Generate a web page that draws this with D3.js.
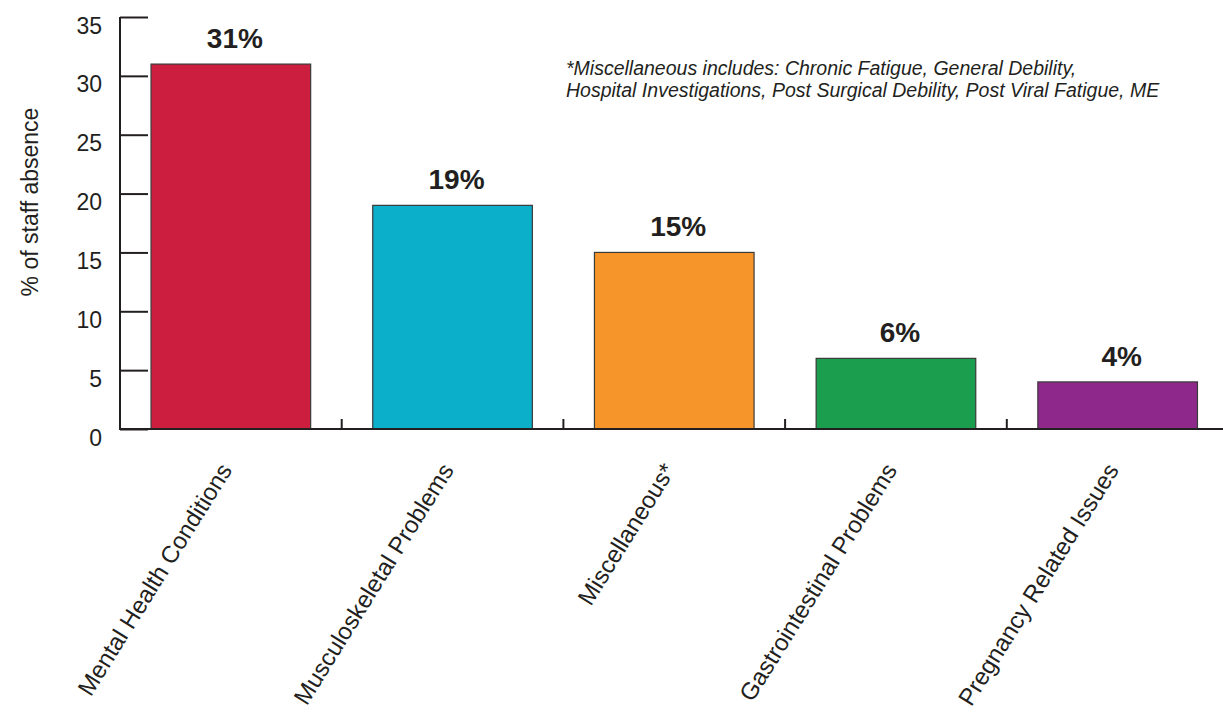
<!DOCTYPE html>
<style>
    body {
        margin: 0;
        font-family: 'Liberation Sans', Arial, sans-serif;
        background: #fff;
    }
</style>
<svg width="1223" height="712"></svg>
<script src="https://d3js.org/d3.v7.min.js"></script>
<script>
    // data
    var categories = ["Mental Health Conditions", "Musculoskeletal Problems", "Miscellaneous*",
        "Gastrointestinal Problems", "Pregnancy Related Issues"];
    var values = [31, 19, 15, 6, 4];
    var colors = ["#CC1F40", "#0BAFC9", "#F6962A", "#1B9E4D", "#8E298B"];
    var yTicks = [0, 5, 10, 15, 20, 25, 30, 35];
    var footnote = ["*Miscellaneous includes: Chronic Fatigue, General Debility,",
        "Hospital Investigations, Post Surgical Debility, Post Viral Fatigue, ME"];

    var svg = d3.select("svg");
    var ink = "#231f20";

    var x = d3.scaleBand()
        .domain(categories)
        .range([120, 1228.5])
        .paddingInner(0.28)
        .paddingOuter(0.14);

    var y = d3.scaleLinear()
        .domain([0, 35])
        .range([429, 17]);

    // bars
    svg.append("g")
        .selectAll("rect")
        .data(values)
        .enter().append("rect")
        .attr("x", function (d, i) { return x(categories[i]); })
        .attr("y", function (d) { return y(d); })
        .attr("width", x.bandwidth())
        .attr("height", function (d) { return y(0) - y(d); })
        .attr("fill", function (d, i) { return colors[i]; })
        .attr("stroke", "#3a3a3a")
        .attr("stroke-width", 1.2);

    // value labels (sit a little right of the bar centre in the original)
    svg.append("g")
        .selectAll("text")
        .data(values)
        .enter().append("text")
        .attr("x", function (d, i) { return x(categories[i]) + x.bandwidth() / 2 + 4; })
        .attr("y", function (d) { return y(d) - 16; })
        .attr("text-anchor", "middle")
        .attr("font-size", 28)
        .attr("font-weight", "bold")
        .attr("fill", ink)
        .text(function (d) { return d + "%"; });

    // y axis, ticks pointing inward
    var yAxis = svg.append("g")
        .attr("transform", "translate(120,0)")
        .call(d3.axisLeft(y).tickValues(yTicks).tickSizeInner(-28).tickSizeOuter(0).tickPadding(18));
    yAxis.selectAll("path, line").attr("stroke", ink).attr("stroke-width", 2);
    yAxis.selectAll("text")
        .attr("font-family", "'Liberation Sans', Arial, sans-serif")
        .attr("font-size", 23)
        .attr("fill", ink)
        .attr("dy", 16);
    yAxis.select(".domain").attr("d", "M0," + y(35) + "V" + y(0));

    // x axis line and separators between the bars
    svg.append("line")
        .attr("x1", 119).attr("x2", 1223)
        .attr("y1", y(0)).attr("y2", y(0))
        .attr("stroke", ink).attr("stroke-width", 2);

    svg.append("g")
        .selectAll("line")
        .data(categories.slice(0, -1))
        .enter().append("line")
        .attr("x1", function (d) { return x(d) + x.bandwidth() + (x.step() - x.bandwidth()) / 2; })
        .attr("x2", function (d) { return x(d) + x.bandwidth() + (x.step() - x.bandwidth()) / 2; })
        .attr("y1", y(0))
        .attr("y2", y(0) - 10)
        .attr("stroke", ink)
        .attr("stroke-width", 2);

    // category labels, rotated
    svg.append("g")
        .selectAll("text")
        .data(categories)
        .enter().append("text")
        .attr("transform", function (d) {
            return "translate(" + (x(d) + x.bandwidth() / 2 + 2) + ",470) rotate(-58)";
        })
        .attr("text-anchor", "end")
        .attr("font-size", 24)
        .attr("fill", ink)
        .text(function (d) { return d; });

    // y axis title
    svg.append("text")
        .attr("transform", "translate(38,202) rotate(-90)")
        .attr("text-anchor", "middle")
        .attr("font-size", 23)
        .attr("fill", ink)
        .text("% of staff absence");

    // footnote
    svg.append("g")
        .selectAll("text")
        .data(footnote)
        .enter().append("text")
        .attr("x", 566)
        .attr("y", function (d, i) { return 75 + i * 22; })
        .attr("font-size", 19.5)
        .attr("font-style", "italic")
        .attr("fill", ink)
        .text(function (d) { return d; });
</script>
